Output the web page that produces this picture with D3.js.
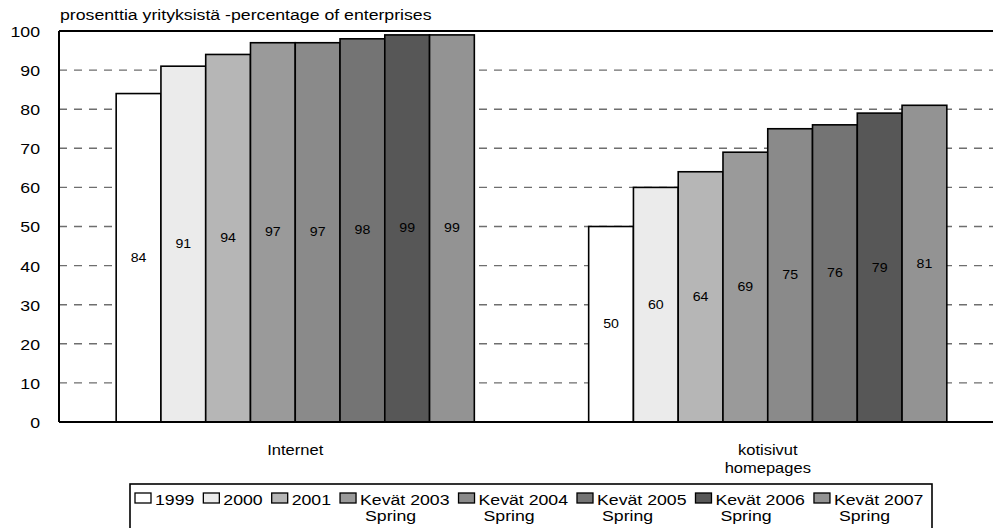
<!DOCTYPE html>
<html>
<head>
<meta charset="utf-8">
<script src="https://cdn.jsdelivr.net/npm/d3@7"></script>
<style>
  html, body { margin: 0; padding: 0; background: #fff; }
  svg { display: block; font-family: "Liberation Sans", Arial, Helvetica, sans-serif; }
</style>
</head>
<body>
<svg id="chart" width="993" height="528"></svg>
<script>
// ---- data ----
const categories = ["Internet", "kotisivut"];
const categoryLabels = [["Internet"], ["kotisivut", "homepages"]];
const seriesNames = ["1999", "2000", "2001", "Kevät 2003", "Kevät 2004", "Kevät 2005", "Kevät 2006", "Kevät 2007"];
const seriesSubNames = ["", "", "", "Spring", "Spring", "Spring", "Spring", "Spring"];
const internetValues = [84, 91, 94, 97, 97, 98, 99, 99];
const homepageValues = [50, 60, 64, 69, 75, 76, 79, 81];
const yTickValues = [0, 10, 20, 30, 40, 50, 60, 70, 80, 90, 100];
const subtitle = "prosenttia yrityksistä -percentage of enterprises";
const seriesColors = ["#ffffff", "#ebebeb", "#b6b6b6", "#9a9a9a", "#8a8a8a", "#747474", "#575757", "#939393"];

const valuesByCategory = [internetValues, homepageValues];
const rows = categories.map((c, i) => ({ cat: c, values: valuesByCategory[i] }));

// ---- layout ----
const svg = d3.select("#chart");
const SX = 1.18; // horizontal stretch of the scanned text
const plot = { left: 59, right: 1004, top: 31, bottom: 422 };

const x0 = d3.scaleBand().domain(categories).range([plot.left, plot.right])
  .paddingInner(0.242).paddingOuter(0.121);
const x1 = d3.scaleBand().domain(seriesNames).range([0, x0.bandwidth()]).padding(0);
const y = d3.scaleLinear().domain([0, 100]).range([plot.bottom, plot.top]);
const color = d3.scaleOrdinal().domain(seriesNames).range(seriesColors);

function stext(parent, x, yy, str, size, anchor, extra) {
  const t = parent.append("text")
    .attr("transform", `translate(${x},${yy}) scale(${SX},1)`)
    .attr("font-size", size)
    .attr("text-anchor", anchor || "start")
    .attr("fill", "#000")
    .text(str);
  if (extra) extra(t);
  return t;
}

// subtitle
stext(svg, 60, 20, subtitle, 15, "start");

// gridlines
svg.append("g").selectAll("line")
  .data(yTickValues.filter(v => v > 0 && v < 100))
  .join("line")
  .attr("x1", plot.left).attr("x2", plot.right)
  .attr("y1", d => y(d)).attr("y2", d => y(d))
  .attr("stroke", "#6e6e6e").attr("stroke-width", 1.4)
  .attr("stroke-dasharray", "8,7");

// y axis labels
const yAxis = d3.axisLeft(y).tickValues(yTickValues).tickSize(0).tickPadding(0);
const gy = svg.append("g").attr("transform", `translate(${plot.left},0)`).call(yAxis);
gy.select(".domain").remove();
gy.selectAll("text")
  .attr("font-size", 15)
  .attr("font-family", "Liberation Sans, Arial, sans-serif")
  .attr("fill", "#000")
  .attr("x", -19 / SX)
  .attr("dy", "0.36em")
  .attr("transform", `scale(${SX},1)`);

// bars
const groups = svg.append("g").selectAll("g")
  .data(rows).join("g")
  .attr("transform", d => `translate(${x0(d.cat)},0)`);

groups.selectAll("rect")
  .data(d => d.values.map((v, i) => ({ name: seriesNames[i], v })))
  .join("rect")
  .attr("x", d => x1(d.name))
  .attr("y", d => y(d.v))
  .attr("width", x1.bandwidth())
  .attr("height", d => y(0) - y(d.v))
  .attr("fill", d => color(d.name))
  .attr("stroke", "#000")
  .attr("stroke-width", 1.6);

// value labels
groups.each(function(d) {
  const g = d3.select(this);
  d.values.forEach((v, i) => {
    stext(g, x1(seriesNames[i]) + x1.bandwidth() / 2, y(v / 2) + 4, String(v), 12, "middle");
  });
});

// frame
svg.append("line").attr("x1", plot.left).attr("x2", 993).attr("y1", plot.top).attr("y2", plot.top)
  .attr("stroke", "#000").attr("stroke-width", 2);
svg.append("line").attr("x1", plot.left).attr("x2", plot.left).attr("y1", plot.top).attr("y2", plot.bottom)
  .attr("stroke", "#000").attr("stroke-width", 2);
svg.append("line").attr("x1", plot.left).attr("x2", 993).attr("y1", plot.bottom).attr("y2", plot.bottom)
  .attr("stroke", "#000").attr("stroke-width", 2);

// category labels
categories.forEach((c, i) => {
  categoryLabels[i].forEach((line, j) => {
    stext(svg, x0(c) + x0.bandwidth() / 2, 455 + j * 18, line, 14, "middle");
  });
});

// legend
const legend = svg.append("g");
legend.append("rect")
  .attr("x", 130).attr("y", 484).attr("width", 802).attr("height", 60)
  .attr("fill", "#fff").attr("stroke", "#000").attr("stroke-width", 1.6);

const legendFont = 15;
const swatchW = 16, swatchGap = 4, itemGap = 9;
let lx = 135;
seriesNames.forEach((name, i) => {
  legend.append("rect")
    .attr("x", lx).attr("y", 493).attr("width", swatchW).attr("height", 10)
    .attr("fill", color(name)).attr("stroke", "#000").attr("stroke-width", 1.3);
  const tx = lx + swatchW + swatchGap;
  const t = stext(legend, tx, 505, name, legendFont, "start");
  if (seriesSubNames[i]) stext(legend, tx + 5, 521, seriesSubNames[i], legendFont, "start");
  const w = t.node().getComputedTextLength() * SX;
  lx = tx + w + itemGap;
});
</script>
</body>
</html>
